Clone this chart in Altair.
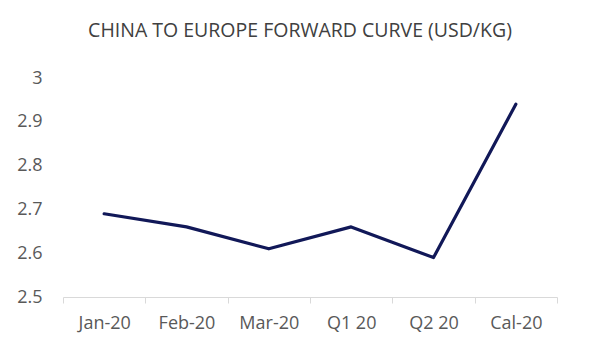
import altair as alt
import pandas as pd

categories = ["Jan-20", "Feb-20", "Mar-20", "Q1 20", "Q2 20", "Cal-20"]
values = [2.69, 2.66, 2.61, 2.66, 2.59, 2.94]
y_ticks = [2.5, 2.6, 2.7, 2.8, 2.9, 3.0]

df = pd.DataFrame({"period": categories, "price": values})

FONT = "Open Sans"

chart = alt.Chart(df).mark_line(color="#111858", strokeWidth=3.2, strokeCap="round", strokeJoin="round").encode(
    x=alt.X("period:N", sort=categories, bandPosition=0.5,
            scale=alt.Scale(type="band", paddingInner=0, paddingOuter=0),
            axis=alt.Axis(title=None, labelAngle=0, tickBand="extent", domainColor="#d9d9d9",
                          tickColor="#d9d9d9", tickSize=6, labelPadding=11,
                          labelFont=FONT, labelFontSize=18, labelColor="#595959", grid=False)),
    y=alt.Y("price:Q", scale=alt.Scale(domain=[2.5, 3.0], nice=False, zero=False),
            axis=alt.Axis(title=None, values=y_ticks, domain=False, ticks=False, grid=False,
                          labelExpr="format(datum.value, '.1~f')", labelPadding=21,
                          labelFont=FONT, labelFontSize=18, labelColor="#595959")),
).properties(
    width=494,
    height=219,
    title=alt.TitleParams("CHINA TO EUROPE FORWARD CURVE (USD/KG)", font=FONT, fontSize=19.5,
                          fontWeight="normal", color="#404040", anchor="middle", offset=28, dx=-10),
    autosize=alt.AutoSizeParams(type="none"),
    padding={"left": 63, "top": 78, "right": 43, "bottom": 56},
).configure_view(stroke=None)

chart.save("out.html", embed_options={"renderer": "svg", "actions": False})
